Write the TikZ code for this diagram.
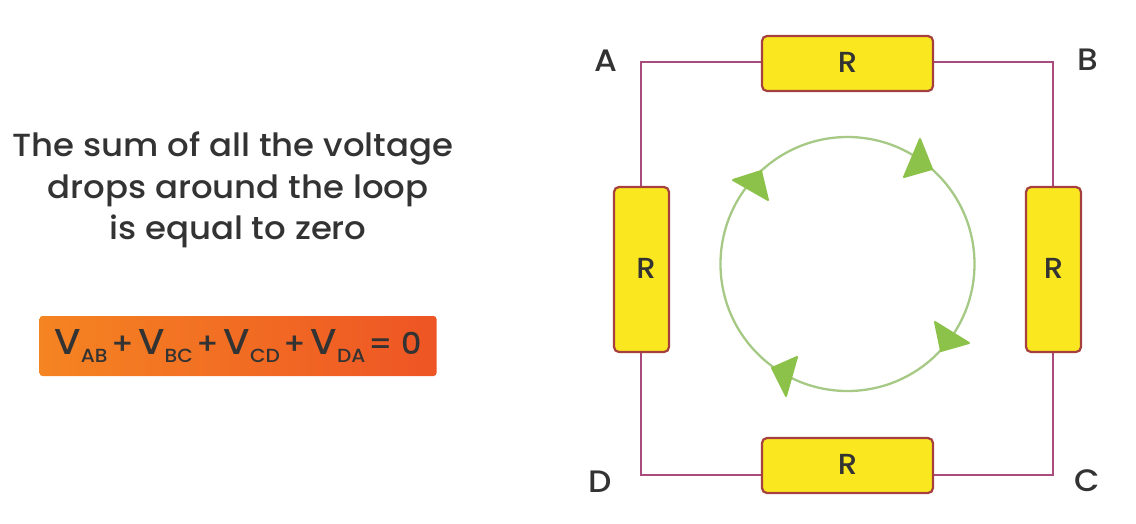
\documentclass[tikz,border=0pt]{standalone}
\usepackage{fontspec}
\setmainfont[FakeStretch=1.06]{Poppins Medium}
\definecolor{wirecol}{HTML}{A94B7C}
\definecolor{rescol}{HTML}{A5403F}
\definecolor{resfill}{HTML}{FBE71F}
\definecolor{loopcol}{HTML}{A6C985}
\definecolor{tipcol}{HTML}{8CC24A}
\definecolor{inkcol}{HTML}{333333}
\definecolor{orangeL}{HTML}{F58422}
\definecolor{orangeR}{HTML}{EE5524}
\newcommand{\vdrop}[1]{{\fontsize{36}{36}\selectfont V}\raisebox{-8pt}{\fontsize{19}{19}\selectfont #1}}
\newcommand{\reslabel}{\raisebox{2pt}{R}}
\newcommand{\plusgap}{\kern4pt+\kern4pt}
\begin{document}
\begin{tikzpicture}[x=1pt, y=-1pt,
  every node/.style = {text=inkcol, inner sep=0pt},
  wire/.style = {draw=wirecol, line width=1.9pt},
  resbox/.style = {shape=rectangle, rounded corners=5pt, draw=rescol, fill=resfill,
    line width=2.2pt, font=\fontsize{29}{29}\selectfont},
  cornerlabel/.style = {font=\fontsize{31}{31}\selectfont},
  looptip/.style = {fill=tipcol, draw=tipcol, line width=2pt, line join=round}]
  \useasboundingbox (0,0) rectangle (1136,523);
  \coordinate (cornerA) at (641,62);
  \coordinate (cornerB) at (1053,62);
  \coordinate (cornerC) at (1053,475);
  \coordinate (cornerD) at (641,475);
  \draw[wire] (cornerD) -- (cornerA) -- (cornerB) -- (cornerC) -- cycle;
  \node[resbox, minimum width=171pt, minimum height=55pt] (resAB) at (847.5,63.5) {\reslabel};
  \node[resbox, minimum width=55pt, minimum height=165pt] (resBC) at (1053.5,269.5) {\reslabel};
  \node[resbox, minimum width=171pt, minimum height=55pt] (resCD) at (847.5,465.5) {\reslabel};
  \node[resbox, minimum width=55pt, minimum height=165pt] (resDA) at (641.5,269.5) {\hspace{9pt}\reslabel};
  \node[cornerlabel] (labelA) at (606,61) {A};
  \node[cornerlabel] (labelB) at (1088,60) {B};
  \node[cornerlabel] (labelC) at (1087,481) {C};
  \node[cornerlabel] (labelD) at (600,482) {D};
  \draw[draw=loopcol, line width=2.3pt] (847.5,264) circle (127);
  \draw[looptip] (920,139) -- (932,169) -- (904,177) -- cycle;
  \draw[looptip] (733,180) -- (761,171) -- (768,200) -- cycle;
  \draw[looptip] (935,322) -- (969,343) -- (941,351) -- cycle;
  \draw[looptip] (797,357) -- (786,396) -- (772,368) -- cycle;
  \node[align=center, font=\fontsize{32}{41.5}\selectfont] (sumtext) at (233,190)
    {The sum of all the voltage\\\hspace{10pt}drops around the loop\\\hspace{10pt}is equal to zero};
  \node[shape=rectangle, rounded corners=3pt, left color=orangeL, right color=orangeR,
    minimum width=397pt, minimum height=60pt, font=\fontsize{30}{30}\selectfont] (sumbox) at (238,346)
    {\vdrop{AB}\plusgap\vdrop{BC}\plusgap\vdrop{CD}\plusgap\vdrop{DA}\kern3pt= 0};
\end{tikzpicture}
\end{document}
